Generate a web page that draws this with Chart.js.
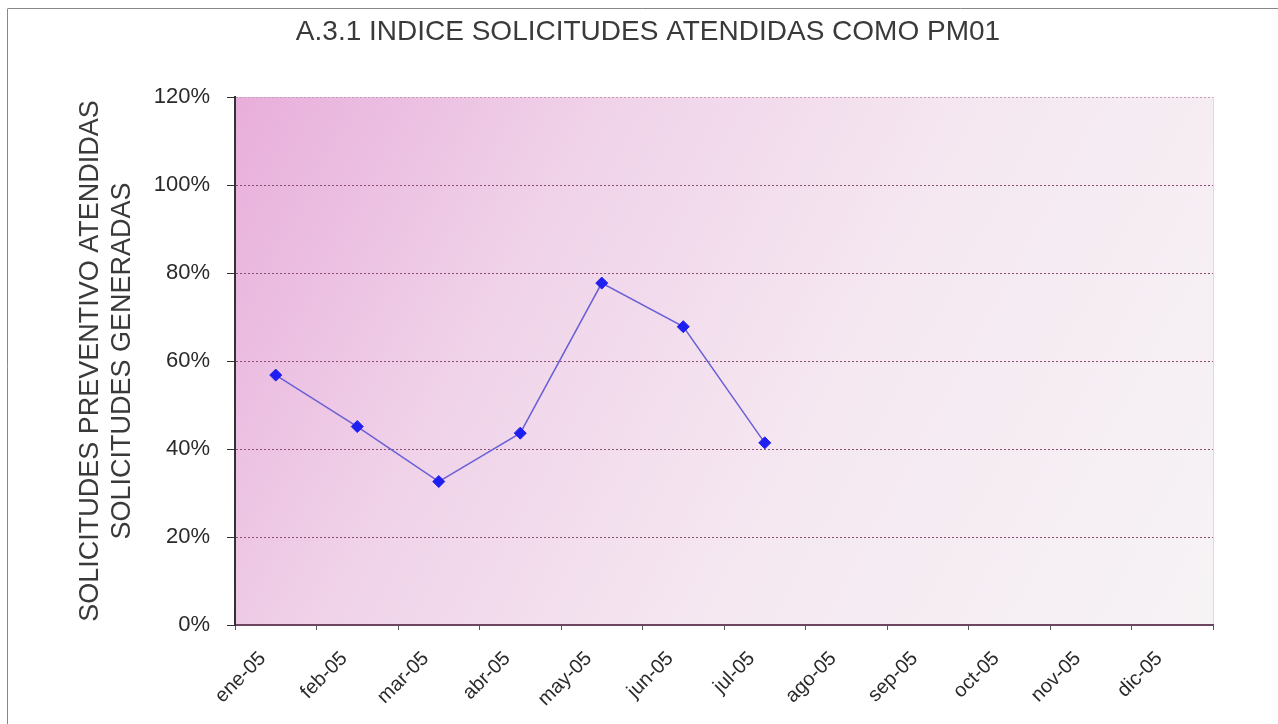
<!DOCTYPE html>
<html><head><meta charset="utf-8">
<script src="https://cdn.jsdelivr.net/npm/chart.js@4.4.1/dist/chart.umd.min.js"></script>
<style>html,body{margin:0;padding:0;background:#fff;}#wrap{width:1278px;height:724px;position:relative;}</style>
</head><body><div id="wrap"><canvas id="c" width="1278" height="724"></canvas></div>
<script>
const categories = ['ene-05','feb-05','mar-05','abr-05','may-05','jun-05','jul-05','ago-05','sep-05','oct-05','nov-05','dic-05'];
const indice = [0.568, 0.451, 0.326, 0.436, 0.777, 0.678, 0.414, null, null, null, null, null];
const yTicks = [0, 0.2, 0.4, 0.6, 0.8, 1.0, 1.2];
const chartTitle = 'A.3.1 INDICE SOLICITUDES ATENDIDAS COMO PM01';
const yTitle = ['SOLICITUDES PREVENTIVO ATENDIDAS', 'SOLICITUDES GENERADAS'];

const bgPlugin = {
  id: 'bg',
  beforeDraw(chart) {
    const {ctx, chartArea: a} = chart;
    ctx.save();
    ctx.fillStyle = '#fff';
    ctx.fillRect(0, 0, chart.width, chart.height);
    const g = ctx.createLinearGradient(a.left, a.top, a.right, a.bottom);
    g.addColorStop(0, '#e8aedb');
    g.addColorStop(0.3, '#f0d3e9');
    g.addColorStop(0.6, '#f5e8f1');
    g.addColorStop(1, '#f6f3f5');
    ctx.fillStyle = g;
    ctx.fillRect(a.left, a.top, a.right - a.left, a.bottom - a.top);
    ctx.strokeStyle = '#e6d8e2';
    ctx.lineWidth = 1;
    ctx.beginPath();
    ctx.moveTo(a.right + 0.5, a.top);
    ctx.lineTo(a.right + 0.5, a.bottom);
    ctx.stroke();
    ctx.strokeStyle = '#888';
    ctx.beginPath();
    ctx.moveTo(7.5, 9);
    ctx.lineTo(7.5, chart.height);
    ctx.moveTo(7.5, 8.5);
    ctx.lineTo(chart.width, 8.5);
    ctx.stroke();
    ctx.restore();
  }
};

const FONT = 'Liberation Sans, Arial, sans-serif';

new Chart(document.getElementById('c'), {
  type: 'line',
  data: {
    labels: categories,
    datasets: [{
      data: indice,
      borderColor: '#6a5fd6',
      borderWidth: 1.5,
      pointStyle: 'rectRot',
      pointRadius: 6,
      pointBackgroundColor: '#1f1ff0',
      pointBorderColor: '#1f1ff0',
      pointBorderWidth: 1,
      tension: 0,
      spanGaps: false
    }]
  },
  plugins: [bgPlugin],
  options: {
    responsive: false,
    animation: false,
    layout: { padding: { left: 18, right: 0, top: 0, bottom: 0 } },
    plugins: {
      legend: { display: false },
      tooltip: { enabled: false },
      title: {
        display: true,
        text: chartTitle,
        color: '#3a3a3a',
        font: { family: FONT, size: 28, weight: 'normal', lineHeight: 1.2 },
        padding: { top: 15, bottom: 48.4 }
      }
    },
    scales: {
      x: {
        type: 'category',
        offset: true,
        grid: { offset: true, drawOnChartArea: false, drawTicks: true, tickLength: 5, color: '#555', tickWidth: 1 },
        border: { display: true, color: '#6b4562', width: 2 },
        ticks: {
          color: '#2a2a2a',
          font: { family: FONT, size: 20 },
          maxRotation: 45, minRotation: 45, autoSkip: false, padding: 17, labelOffset: -13
        },
        afterFit(s) { s.height = 99; }
      },
      y: {
        min: 0, max: 1.2,
        afterBuildTicks(s) { s.ticks = yTicks.map(v => ({ value: v })); },
        grid: {
          color: (ctx) => {
            if (!ctx.tick) return '#8d4f74';
            if (ctx.tick.value === 0) return 'rgba(0,0,0,0)';
            if (ctx.tick.value > 1.1) return '#c89ab8';
            return '#8d4f74';
          },
          lineWidth: 1,
          drawTicks: true,
          tickLength: 8,
          tickColor: '#333'
        },
        border: { display: true, color: '#333', width: 2, dash: [2, 2] },
        ticks: {
          color: '#2a2a2a',
          font: { family: FONT, size: 22 },
          padding: 17,
          callback: (v) => Math.round(v * 100) + '%'
        },
        title: {
          display: true,
          text: yTitle,
          color: '#3a3a3a',
          font: { family: FONT, size: 27, lineHeight: 1.19 },
          padding: { top: 56, bottom: 0 }
        },
        afterFit(s) { s.width = 217; }
      },
      y2: {
        position: 'right',
        display: true,
        min: 0, max: 1.2,
        grid: { drawOnChartArea: false, drawTicks: false },
        border: { display: false },
        ticks: { display: false },
        afterFit(s) { s.width = 65; }
      }
    }
  }
});
</script>
</body></html>
